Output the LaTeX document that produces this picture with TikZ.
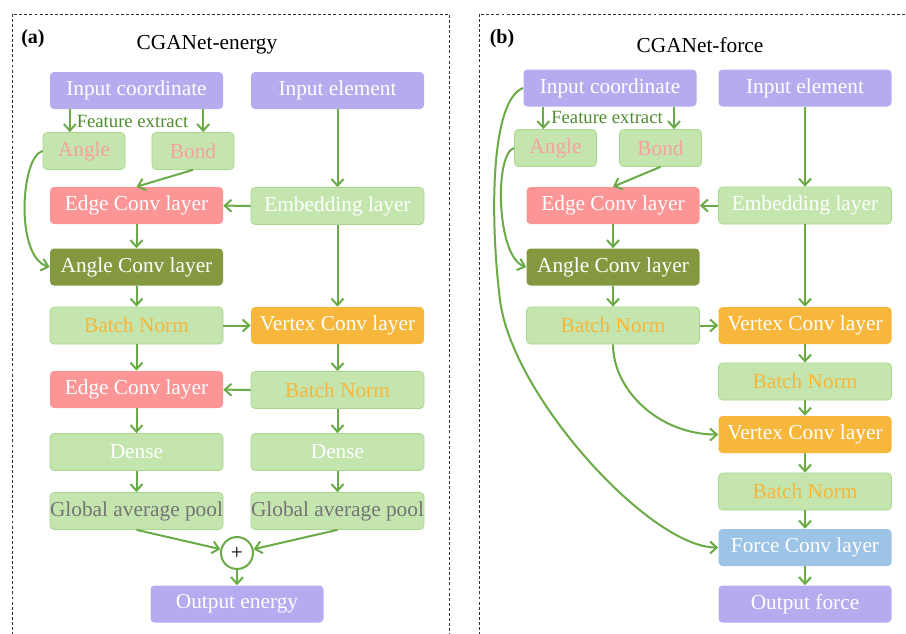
\documentclass[tikz,border=0pt]{standalone}
\usepackage{fontspec}
\setmainfont{Liberation Serif}
\usepackage{tikz}
\usetikzlibrary{arrows.meta}
\definecolor{cpurple}{HTML}{B4ACEE}
\definecolor{cgreen}{HTML}{C4E5AE}
\definecolor{cgreenline}{HTML}{A9D68E}
\definecolor{cred}{HTML}{FC9696}
\definecolor{colive}{HTML}{84993F}
\definecolor{corange}{HTML}{F6B73C}
\definecolor{cblue}{HTML}{9DC3E6}
\definecolor{carrow}{HTML}{6AAB47}
\definecolor{cpink}{HTML}{F7A0A0}
\definecolor{cgrey}{HTML}{757575}
\definecolor{ctext}{HTML}{4E8B2F}

\begin{document}
\begin{tikzpicture}[x=0.75pt, y=-0.75pt,
  box/.style={rectangle, rounded corners=3pt, minimum width=129.75pt, minimum height=27.75pt, inner sep=0pt, font=\fontsize{16}{18}\selectfont, text=white},
  purp/.style={box, fill=cpurple},
  grn/.style={box, fill=cgreen, draw=cgreenline, line width=0.5pt},
  edgebox/.style={box, fill=cred},
  olive/.style={box, fill=colive},
  orng/.style={box, fill=corange},
  blu/.style={box, fill=cblue},
  small/.style={grn, minimum width=61.5pt, text=cpink},
  arr/.style={carrow, line width=1.5pt, -{Straight Barb[length=5pt, width=9pt]}},
  frame/.style={black!80, line width=0.6pt, dash pattern=on 2.2pt off 1.6pt}]
  \useasboundingbox (0,0) rectangle (906,633);

  \draw[frame] (12,640) -- (12,14) -- (449,14) -- (449,640);
  \draw[frame] (479,640) -- (479,14) -- (910,14);

  \node[font=\fontsize{15}{17}\selectfont\bfseries] (labA) at (33,39) {(a)};
  \node[font=\fontsize{16}{18}\selectfont] (titleA) at (207,45) {CGANet-energy};
  \node[purp] (inA) at (136.5,90.5) {Input coordinate};
  \node[purp] (elA) at (337.5,90.5) {Input element};
  \node[font=\fontsize{14}{16}\selectfont, text=ctext] (featA) at (132.5,121) {Feature extract};
  \node[small] (angA) at (84,151) {Angle};
  \node[small] (bondA) at (193,151) {Bond};
  \node[edgebox] (edgeA) at (136.5,205.5) {Edge Conv layer};
  \node[grn] (embA) at (337.5,206) {Embedding layer};
  \node[olive] (aconvA) at (136.5,267) {Angle Conv layer};
  \node[grn, text=corange] (bnA) at (136.5,325.5) {Batch Norm};
  \node[orng] (vconvA) at (337.5,325.5) {Vertex Conv layer};
  \node[edgebox] (edgeAA) at (136.5,389.5) {Edge Conv layer};
  \node[grn, text=corange] (bnAA) at (337.5,390) {Batch Norm};
  \node[grn] (denseA) at (136.5,452) {Dense};
  \node[grn] (denseAA) at (337.5,452) {Dense};
  \node[grn, text=cgrey] (gapA) at (136.5,511) {Global average pool};
  \node[grn, text=cgrey] (gapAA) at (337.5,511) {Global average pool};
  \node[circle, draw=carrow, line width=1.5pt, fill=white, minimum size=24pt, inner sep=0pt, font=\fontsize{16}{18}\selectfont] (plusA) at (237,553) {+};
  \node[purp] (outA) at (237,604) {Output energy};

  \draw[arr] ([xshift=-50pt]inA.south) -- ([xshift=-50pt]inA.south |- angA.north);
  \draw[arr] ([xshift=50pt]inA.south) -- ([xshift=50pt]inA.south |- bondA.north);
  \draw[arr] (bondA.south) -- (edgeA.north);
  \draw[arr] (elA) -- (embA);
  \draw[arr] (embA) -- (edgeA);
  \draw[arr] (edgeA) -- (aconvA);
  \draw[arr] (angA.west) .. controls +(-22,5) and +(-35,-10) .. (aconvA.west);
  \draw[arr] (aconvA) -- (bnA);
  \draw[arr] (embA) -- (vconvA);
  \draw[arr] (bnA) -- (vconvA);
  \draw[arr] (bnA) -- (edgeAA);
  \draw[arr] (vconvA) -- (bnAA);
  \draw[arr] (bnAA) -- (edgeAA);
  \draw[arr] (edgeAA) -- (denseA);
  \draw[arr] (bnAA) -- (denseAA);
  \draw[arr] (denseA) -- (gapA);
  \draw[arr] (denseAA) -- (gapAA);
  \draw[arr] (gapA.south) -- (plusA);
  \draw[arr] (gapAA.south) -- (plusA);
  \draw[arr] (plusA) -- (outA);

  \node[font=\fontsize{15}{17}\selectfont\bfseries] (labB) at (502,39) {(b)};
  \node[font=\fontsize{16}{18}\selectfont] (titleB) at (700,45) {CGANet-force};
  \node[purp] (inB) at (610,88) {Input coordinate};
  \node[purp] (elB) at (805,88) {Input element};
  \node[font=\fontsize{14}{16}\selectfont, text=ctext] (featB) at (607,117) {Feature extract};
  \node[small] (angB) at (555.5,148) {Angle};
  \node[small] (bondB) at (660.5,148) {Bond};
  \node[edgebox] (edgeB) at (613,205.5) {Edge Conv layer};
  \node[grn] (embB) at (805,205.5) {Embedding layer};
  \node[olive] (aconvB) at (613,267) {Angle Conv layer};
  \node[grn, text=corange] (bnB) at (613,325.5) {Batch Norm};
  \node[orng] (vconvB) at (805,325.5) {Vertex Conv layer};
  \node[grn, text=corange] (bnBB) at (805,381.5) {Batch Norm};
  \node[orng] (vconvBB) at (805,434.5) {Vertex Conv layer};
  \node[grn, text=corange] (bnBBB) at (805,491.5) {Batch Norm};
  \node[blu] (forceB) at (805,547.5) {Force Conv layer};
  \node[purp] (outB) at (805,604) {Output force};

  \draw[arr] ([xshift=-50pt]inB.south) -- ([xshift=-50pt]inB.south |- angB.north);
  \draw[arr] ([xshift=48pt]inB.south) -- ([xshift=48pt]inB.south |- bondB.north);
  \draw[arr] (bondB.south) -- (edgeB.north);
  \draw[arr] (elB) -- (embB);
  \draw[arr] (embB) -- (edgeB);
  \draw[arr] (edgeB) -- (aconvB);
  \draw[arr] (angB.west) .. controls +(-20,5) and +(-30,-10) .. (aconvB.west);
  \draw[arr] (aconvB) -- (bnB);
  \draw[arr] (embB) -- (vconvB);
  \draw[arr] (bnB) -- (vconvB);
  \draw[arr] (vconvB) -- (bnBB);
  \draw[arr] (bnBB) -- (vconvBB);
  \draw[arr] (vconvBB) -- (bnBBB);
  \draw[arr] (bnBBB) -- (forceB);
  \draw[arr] (forceB) -- (outB);
  \draw[arr] (bnB.south) .. controls +(0,46) and +(-59,0) .. (vconvBB.west);
  \draw[arr] (inB.west) .. controls (490,100) and (490,220) .. (500,300)
    .. controls (512,396) and (650,547.5) .. (forceB.west);
\end{tikzpicture}
\end{document}
